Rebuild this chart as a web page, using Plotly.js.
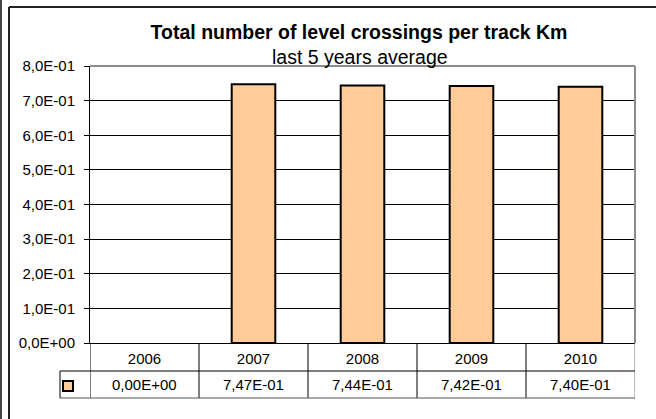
<!DOCTYPE html>
<html><head><meta charset="utf-8">
<script src="https://cdn.plot.ly/plotly-3.0.1.min.js"></script>
<style>html,body{margin:0;padding:0;background:#fff;overflow:hidden}</style>
</head><body><div id="chart" style="width:656px;height:419px"></div>
<script>
// ---- data ----
const years = ['2006', '2007', '2008', '2009', '2010'];
const values = [0, 0.747, 0.744, 0.742, 0.740];
const yTickVals = [0, 0.1, 0.2, 0.3, 0.4, 0.5, 0.6, 0.7, 0.8];
const yTickText = ['0,0E+00', '1,0E-01', '2,0E-01', '3,0E-01', '4,0E-01', '5,0E-01', '6,0E-01', '7,0E-01', '8,0E-01'];
const chartTitle = 'Total number of level crossings per track Km';
const chartSubtitle = 'last 5 years average';

function fmtSci(v) {
  if (v === 0) return '0,00E+00';
  let e = Math.floor(Math.log10(Math.abs(v)));
  let m = v / Math.pow(10, e);
  if (Math.round(m * 100) / 100 >= 10) { m /= 10; e += 1; }
  const sign = e < 0 ? '-' : '+';
  const ae = Math.abs(e);
  return m.toFixed(2).replace('.', ',') + 'E' + sign + (ae < 10 ? '0' : '') + ae;
}
const valueLabels = values.map(fmtSci);

// ---- geometry ----
const W = 656, H = 419, L = 90, R = 635, T = 66, B = 343;
const px = p => (p - L) / (R - L);
const py = p => (B - p) / (B - T);
const FONT = 'Liberation Sans, Arial, sans-serif';
const barColor = '#FFCC99';

const shapes = [];
const line = (xref, x0, x1, y0, y1, color, w) => shapes.push({type: 'line', xref: xref, yref: 'paper', x0: x0, x1: x1, y0: y0, y1: y1, line: {color: color, width: w}, layer: 'above'});

// plot area top/right border (grey)
line('paper', 0, 1, 1, 1, '#8c8c8c', 2);
line('paper', 1, 1, 0, 1, '#8c8c8c', 2);
// data table grid
for (let i = 0; i <= years.length; i++) {
  const xb = i - 0.5;
  line('x', xb, xb, 0, py(398), i === years.length ? '#777' : '#000', 1);
}
line('paper', px(60), 1, py(371), py(371), '#000', 1);
line('paper', px(60), 1, py(398), py(398), '#555', 1);
line('paper', px(60), px(60), py(371), py(398), '#000', 1);
// legend key
shapes.push({type: 'rect', xref: 'paper', yref: 'paper', x0: px(63), x1: px(73), y0: py(381), y1: py(391), fillcolor: barColor, line: {color: '#000', width: 2}, layer: 'above'});
// outer frame
line('paper', px(9), px(9), py(7), py(460), '#222', 2);
line('paper', px(9), px(700), py(7), py(7), '#222', 2);
line('paper', px(1), px(1), py(-10), py(460), '#444', 2);

const annotations = values.map((v, i) => ({
  x: i, y: py(384.5), xref: 'x', yref: 'paper', text: valueLabels[i], showarrow: false,
  xanchor: 'center', yanchor: 'middle', font: {family: FONT, size: 15, color: '#000'}
}));
annotations.push({x: px(360), y: py(57), xref: 'paper', yref: 'paper', text: chartSubtitle, showarrow: false,
  xanchor: 'center', yanchor: 'middle', font: {family: FONT, size: 19.5, color: '#000'}});

const trace = {
  type: 'bar', x: years, y: values,
  marker: {color: barColor, line: {color: '#000', width: values.map(v => v === 0 ? 0 : 2)}},
  hoverinfo: 'none', showlegend: false
};

const layout = {
  width: W, height: H,
  margin: {l: L, r: W - R, t: T, b: H - B, pad: 0},
  paper_bgcolor: '#fff', plot_bgcolor: '#fff',
  font: {family: FONT, size: 15, color: '#000'},
  title: {text: '<b>' + chartTitle + '</b>', x: 359 / W, xanchor: 'center', y: 1 - 32 / H, yanchor: 'middle', yref: 'container',
          font: {family: FONT, size: 19.5, color: '#000'}},
  bargap: 0.6,
  showlegend: false,
  xaxis: {type: 'category', range: [-0.5, 4.5], showgrid: false, zeroline: false,
          showline: true, linecolor: '#000', linewidth: 1, ticks: '', ticklabelstandoff: 2,
          tickfont: {family: FONT, size: 15, color: '#000'}, fixedrange: true},
  yaxis: {range: [0, 0.8], tickvals: yTickVals, ticktext: yTickText, showgrid: true, gridcolor: '#000', gridwidth: 1,
          zeroline: false, showline: true, linecolor: '#000', linewidth: 1, ticks: 'outside', ticklen: 5, tickcolor: '#000',
          ticklabelstandoff: 6, tickfont: {family: FONT, size: 15, color: '#000'}, fixedrange: true},
  shapes: shapes, annotations: annotations
};

Plotly.newPlot('chart', [trace], layout, {displayModeBar: false, staticPlot: true});
</script></body></html>
